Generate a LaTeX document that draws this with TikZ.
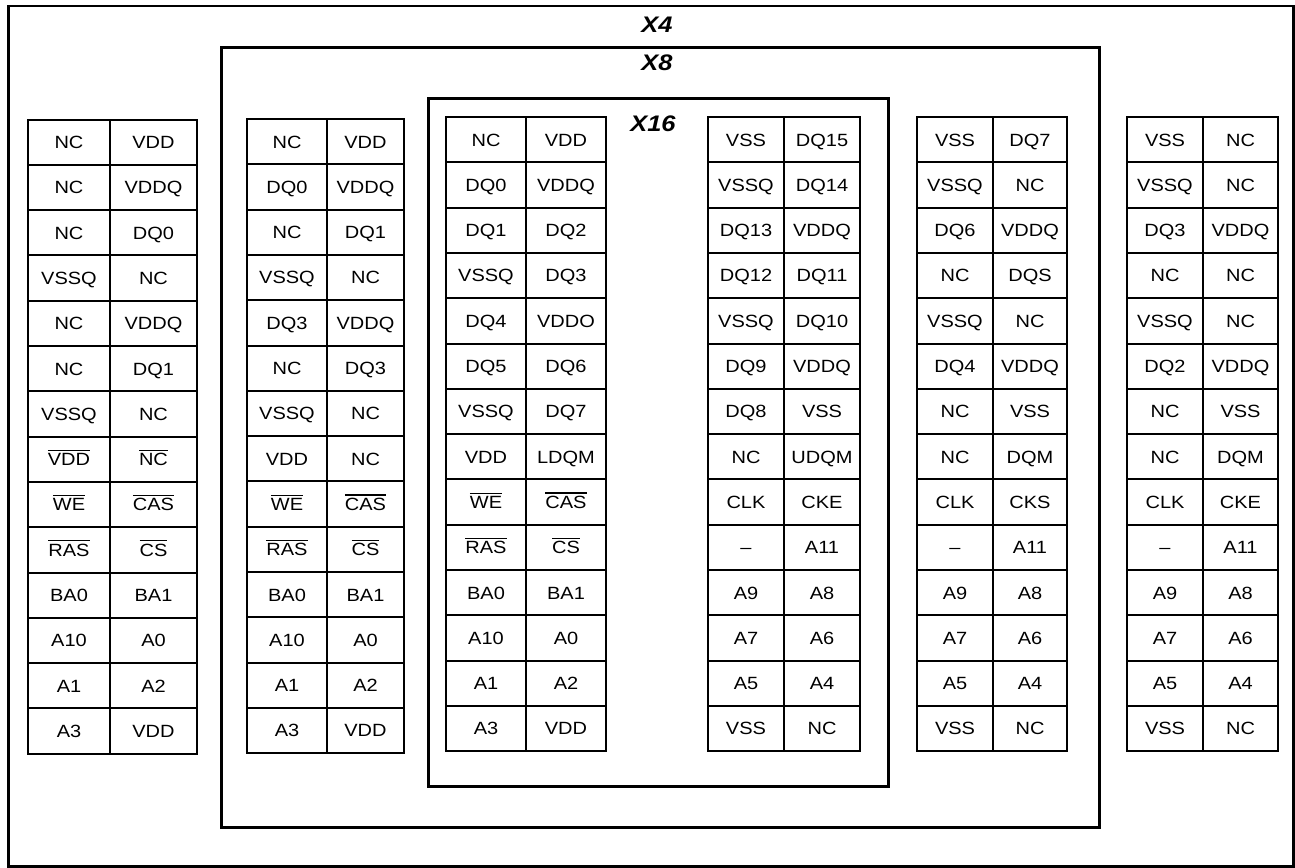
\documentclass[tikz,border=0pt]{standalone}
\usepackage{fontspec}
\setmainfont{Liberation Sans}[FakeStretch=1.13]
\newcommand\ovl[1]{\leavevmode\vbox{\hrule height 1.3pt\kern 2.4pt\hbox{#1}}}
\tikzset{
  cell/.style={draw, line width=2pt, inner sep=0pt, anchor=north west,
    font=\fontsize{17.7}{19}\selectfont, text height=12.7pt, text depth=0pt},
  frame/.style={draw, line width=3pt, inner sep=0pt, anchor=north west},
  title/.style={font=\fontsize{22.5}{24}\selectfont\bfseries\itshape, inner sep=0pt}
}
\newcommand\pintable[6]{%
  \pgfmathsetmacro\wa{#3-#2}%
  \pgfmathsetmacro\wb{#4-#3}%
  \foreach [count=\i] \a/\b in {#6} {
    \pgfmathsetmacro\yy{#5+(\i-1)*45.3}
    \node[cell, minimum width=\wa pt, minimum height=45.3pt] (#1-\i-a) at (#2,\yy) {\a};
    \node[cell, minimum width=\wb pt, minimum height=45.3pt] (#1-\i-b) at (#3,\yy) {\b};
  }%
}
\begin{document}
\begin{tikzpicture}[x=1pt, y=-1pt]
\useasboundingbox (0,0) rectangle (1295,867);
\node[frame, line width=2.5pt, minimum width=1285pt, minimum height=860pt] (x4) at (7,5) {};
\node[frame, minimum width=878pt, minimum height=780pt] (x8) at (220,46) {};
\node[frame, minimum width=460pt, minimum height=688pt] (x16) at (427,97) {};
\node[title] (lx4) at (657,25) {X4};
\node[title] (lx8) at (657,63) {X8};
\node[title] (lx16) at (653,124) {X16};

\pintable{ta}{27}{109}{196}{118.5}{NC/VDD, NC/VDDQ, NC/DQ0, VSSQ/NC, NC/VDDQ, NC/DQ1, VSSQ/NC,
  \ovl{VDD}/\ovl{NC}, \ovl{WE}/\ovl{CAS}, \ovl{RAS}/\ovl{CS}, BA0/BA1, A10/A0, A1/A2, A3/VDD}
\pintable{tb}{246}{326}{403}{118}{NC/VDD, DQ0/VDDQ, NC/DQ1, VSSQ/NC, DQ3/VDDQ, NC/DQ3, VSSQ/NC,
  VDD/NC, \ovl{WE}/\ovl{CAS}, \ovl{RAS}/\ovl{CS}, BA0/BA1, A10/A0, A1/A2, A3/VDD}
\pintable{tc}{445}{525}{605}{116}{NC/VDD, DQ0/VDDQ, DQ1/DQ2, VSSQ/DQ3, DQ4/VDDO, DQ5/DQ6, VSSQ/DQ7,
  VDD/LDQM, \ovl{WE}/\ovl{CAS}, \ovl{RAS}/\ovl{CS}, BA0/BA1, A10/A0, A1/A2, A3/VDD}
\pintable{td}{707}{783}{859}{116}{VSS/DQ15, VSSQ/DQ14, DQ13/VDDQ, DQ12/DQ11, VSSQ/DQ10, DQ9/VDDQ, DQ8/VSS,
  NC/UDQM, CLK/CKE, –/A11, A9/A8, A7/A6, A5/A4, VSS/NC}
\pintable{te}{916}{992}{1066}{116}{VSS/DQ7, VSSQ/NC, DQ6/VDDQ, NC/DQS, VSSQ/NC, DQ4/VDDQ, NC/VSS,
  NC/DQM, CLK/CKS, –/A11, A9/A8, A7/A6, A5/A4, VSS/NC}
\pintable{tf}{1126}{1202}{1277}{116}{VSS/NC, VSSQ/NC, DQ3/VDDQ, NC/NC, VSSQ/NC, DQ2/VDDQ, NC/VSS,
  NC/DQM, CLK/CKE, –/A11, A9/A8, A7/A6, A5/A4, VSS/NC}
\end{tikzpicture}
\end{document}
